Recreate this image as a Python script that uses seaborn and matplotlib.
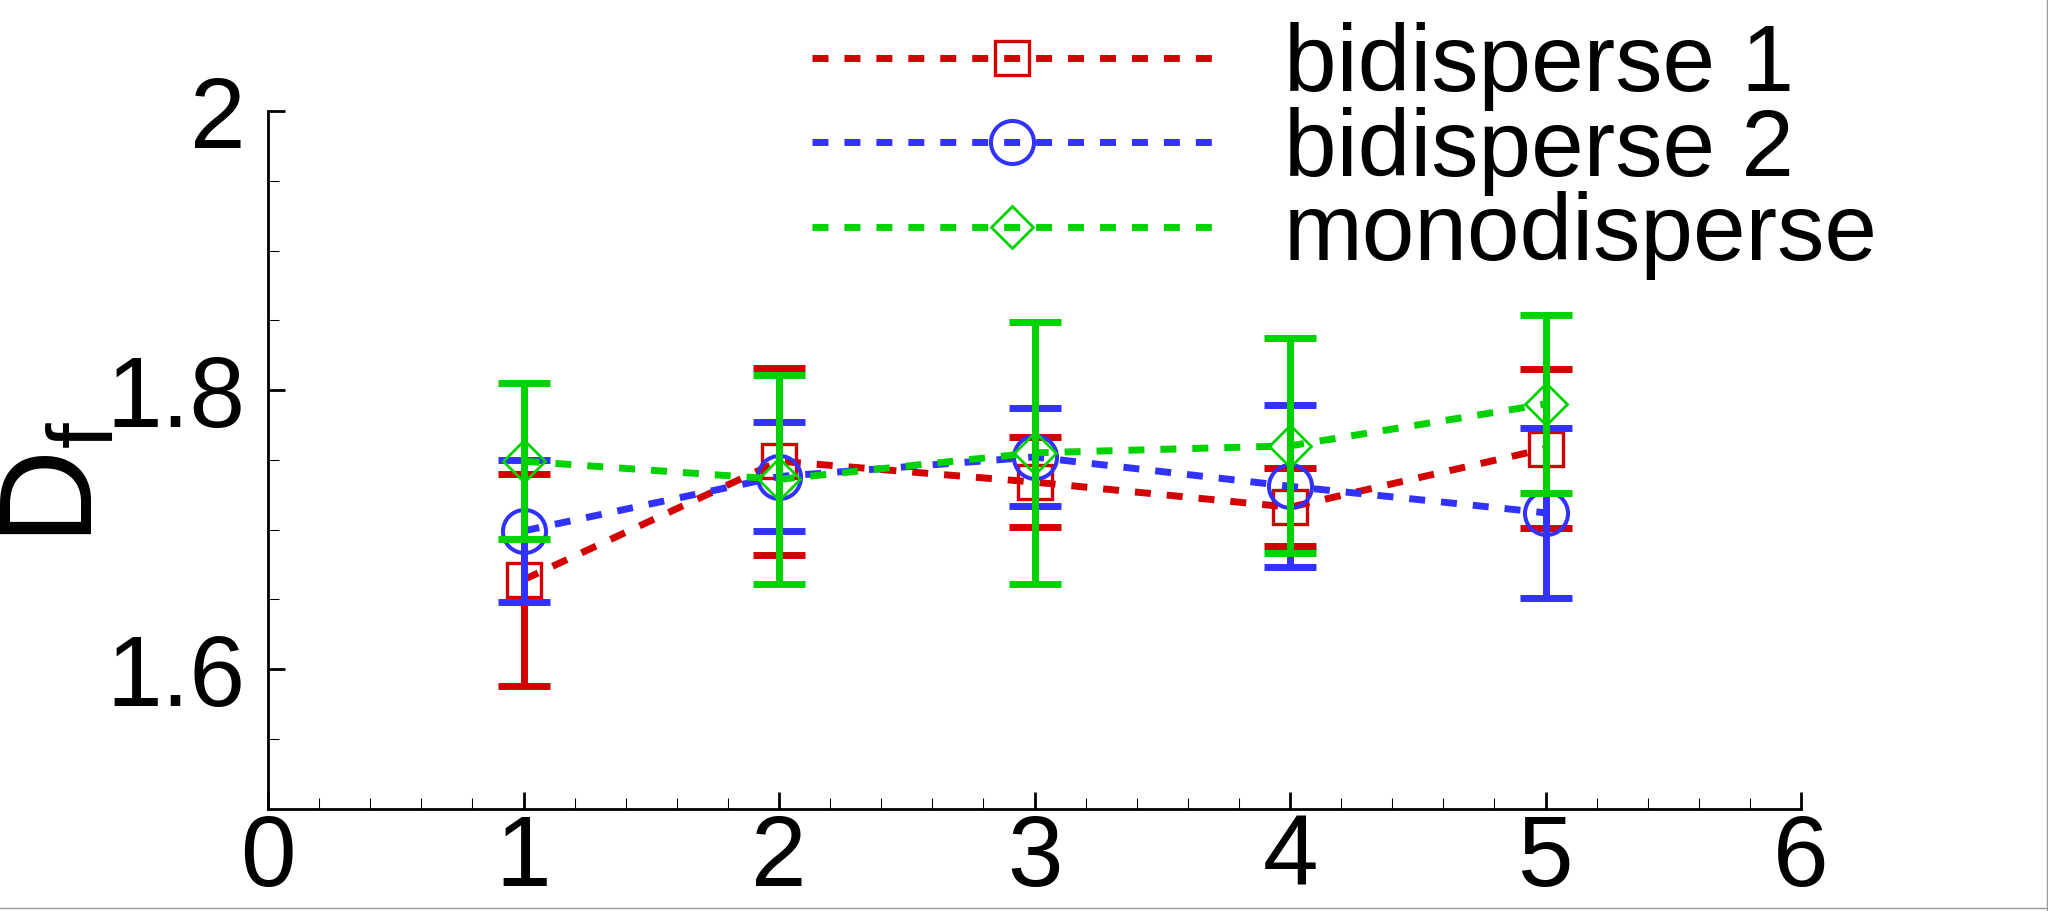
import numpy as np
import pandas as pd
import seaborn as sns
import matplotlib.pyplot as plt
from matplotlib.ticker import MultipleLocator, FormatStrFormatter
from matplotlib.lines import Line2D

# data
x_vals = [1, 2, 3, 4, 5]

bi1 = [1.664, 1.749, 1.734, 1.716, 1.758]
bi1_err = [0.076, 0.067, 0.032, 0.028, 0.057]

bi2 = [1.699, 1.738, 1.752, 1.731, 1.712]
bi2_err = [0.051, 0.039, 0.035, 0.058, 0.061]

mono = [1.749, 1.736, 1.755, 1.760, 1.790]
mono_err = [0.056, 0.075, 0.094, 0.077, 0.064]

labels = ['bidisperse 1', 'bidisperse 2', 'monodisperse']
colors = ['#D20000', '#3232FF', '#00D200']
markers = ['s', 'o', 'D']
msizes = [25, 31, 21]
medges = [2.4, 2.9, 2.0]

sns.set_style('white')
plt.rcParams['font.family'] = ['Liberation Sans', 'DejaVu Sans']
plt.rcParams['mathtext.fontset'] = 'custom'
plt.rcParams['mathtext.rm'] = 'Liberation Sans'
plt.rcParams['text.color'] = 'black'
plt.rcParams['axes.labelcolor'] = 'black'
plt.rcParams['xtick.color'] = 'black'
plt.rcParams['ytick.color'] = 'black'

fig = plt.figure(figsize=(20.48, 9.11), dpi=100)
ax = fig.add_axes([0.1309, 0.1125, 0.7485, 0.7656])

all_y = [bi1, bi2, mono]
all_err = [bi1_err, bi2_err, mono_err]

for i in range(3):
    df = pd.DataFrame({'x': x_vals, 'y': all_y[i]})
    z = 2 + i
    ax.errorbar(x_vals, all_y[i], yerr=all_err[i], fmt='none', ecolor=colors[i],
                elinewidth=5, capsize=18.7, capthick=5, zorder=z)
    sns.lineplot(data=df, x='x', y='y', ax=ax, color=colors[i], linewidth=5,
                 linestyle=(0, (2.3, 2.3)), marker=markers[i], markersize=msizes[i],
                 markerfacecolor='none', markeredgecolor=colors[i],
                 markeredgewidth=medges[i], label=labels[i], zorder=z, legend=False)

ax.set_xlim(0, 6)
ax.set_ylim(1.5, 2.0)
ax.xaxis.set_major_locator(MultipleLocator(1))
ax.xaxis.set_minor_locator(MultipleLocator(0.2))
ax.set_yticks([1.6, 1.8, 2.0])
ax.yaxis.set_minor_locator(MultipleLocator(0.05))
ax.yaxis.set_major_formatter(FormatStrFormatter('%g'))

ax.tick_params(which='both', bottom=True, left=True, top=False, right=False)
ax.tick_params(which='major', direction='in', length=12, width=2, labelsize=72,
               color='black', labelcolor='black')
ax.tick_params(which='minor', direction='in', length=8, width=0.75, color='black')
ax.tick_params(axis='x', which='major', pad=3)
ax.tick_params(axis='y', which='major', pad=16)

for s in ['top', 'right']:
    ax.spines[s].set_visible(False)
for s in ['left', 'bottom']:
    ax.spines[s].set_linewidth(2)
    ax.spines[s].set_color('black')

ax.set_xlabel('')
ax.set_ylabel(r'$\mathrm{D}_{\mathrm{f}}$', fontsize=95, color='black')
ax.yaxis.set_label_coords(-0.097, 0.467)

handles, labs = ax.get_legend_handles_labels()
leg = ax.legend(handles, labs, loc='center left', bbox_to_anchor=(812 / 2048, 1 - 151 / 911),
                bbox_transform=fig.transFigure, frameon=False, fontsize=68, numpoints=1,
                handlelength=4.24, handletextpad=0.76, labelspacing=-0.05,
                borderpad=0, borderaxespad=0)
for t in leg.get_texts():
    t.set_color('black')

# thin grey frame on right and bottom edges
fig.add_artist(Line2D([0.99927, 0.99927], [0, 1], transform=fig.transFigure, color='#999999', lw=1))
fig.add_artist(Line2D([0, 1], [0.0033, 0.0033], transform=fig.transFigure, color='#999999', lw=1))

fig.savefig('out.png', dpi=100)
